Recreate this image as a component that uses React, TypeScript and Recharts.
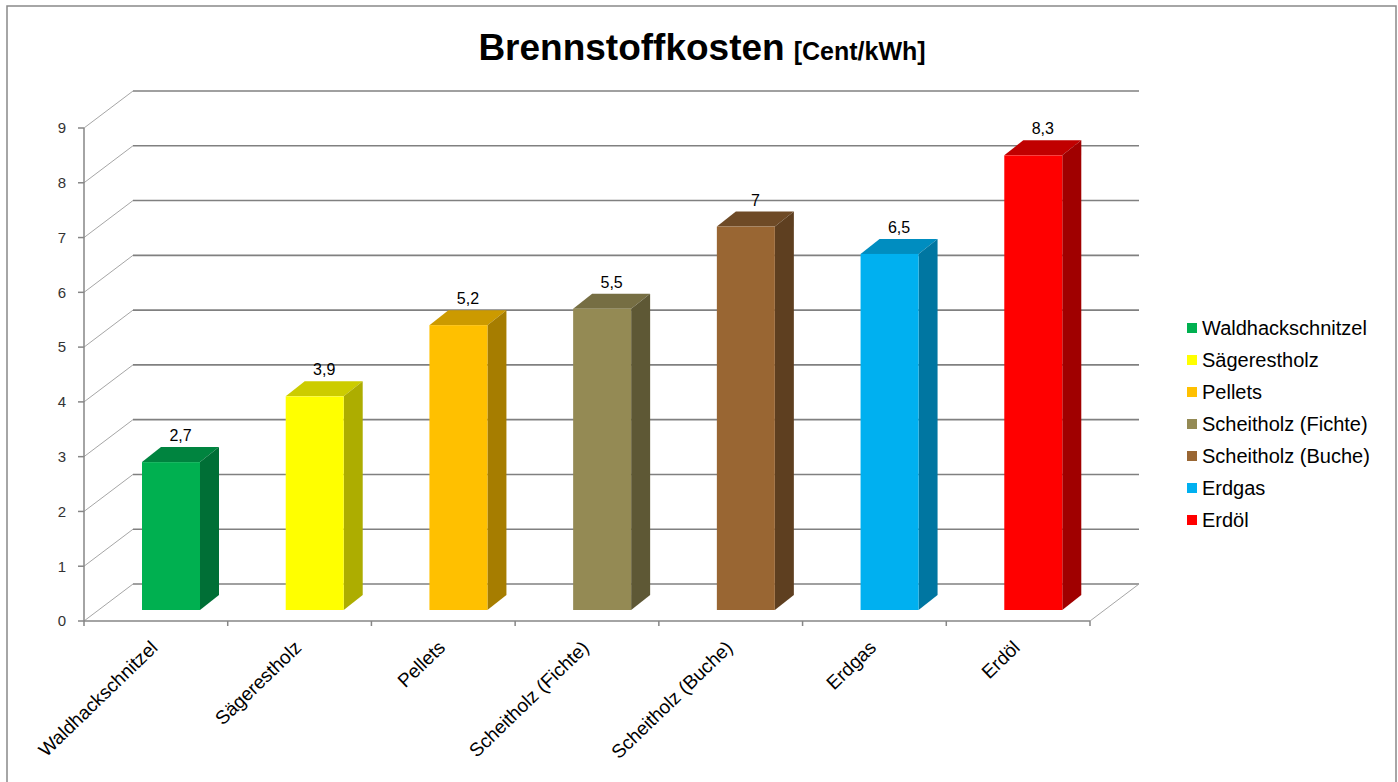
import React from 'react';
import { BarChart, Bar, XAxis, YAxis, CartesianGrid, Legend, LabelList } from 'recharts';

const CATEGORIES = [
  'Waldhackschnitzel',
  'Sägerestholz',
  'Pellets',
  'Scheitholz (Fichte)',
  'Scheitholz (Buche)',
  'Erdgas',
  'Erdöl',
];
const COSTS = [2.7, 3.9, 5.2, 5.5, 7, 6.5, 8.3];
const Y_TICKS = [0, 1, 2, 3, 4, 5, 6, 7, 8, 9];

// front / top / side shades per bar
const FRONT = ['#00B050', '#FFFF00', '#FFC000', '#948A54', '#996633', '#00B0F0', '#FF0000'];
const TOP = ['#00843F', '#CCCC00', '#CC9A00', '#766E43', '#6E4A26', '#008DC0', '#C00000'];
const SIDE = ['#006F36', '#ADAD00', '#A67D00', '#5E5835', '#5E3F20', '#0076A1', '#A00000'];

const FONT = "'Liberation Sans', Arial, sans-serif";
const W = 1398;
const H = 782;
const LEGEND_W = 200;
// the vertical legend takes its width off the right side of the plot
const MARGIN = { top: 128, right: 308 - LEGEND_W, left: 24, bottom: 21 };
const Y_AXIS_W = 60;
const X_AXIS_H = 140;
const PLOT_W = W - MARGIN.left - Y_AXIS_W - MARGIN.right - LEGEND_W;
const HALF_BAND = PLOT_W / CATEGORIES.length / 2;

// back wall offset and bar depth
const WALL_DX = 49;
const WALL_DY = 37;
const BAR_DX = 19;
const BAR_DY = 15;
const BAR_SHIFT_X = 15;
const BAR_SHIFT_Y = -11;

const data = CATEGORIES.map((name, i) => ({ name, value: COSTS[i] }));

function colorIndex(props: any) {
  if (typeof props.index === 'number') return props.index;
  return Math.max(0, CATEGORIES.indexOf(props.payload?.name));
}

function Bar3D(props: any) {
  const { x, y, width, height } = props;
  const i = colorIndex(props);
  const fx = x + BAR_SHIFT_X;
  const fy = y + BAR_SHIFT_Y;
  return (
    <g>
      <polygon
        points={`${fx},${fy} ${fx + BAR_DX},${fy - BAR_DY} ${fx + width + BAR_DX},${fy - BAR_DY} ${fx + width},${fy}`}
        fill={TOP[i]}
      />
      <polygon
        points={`${fx + width},${fy} ${fx + width + BAR_DX},${fy - BAR_DY} ${fx + width + BAR_DX},${fy + height - BAR_DY} ${fx + width},${fy + height}`}
        fill={SIDE[i]}
      />
      <rect x={fx} y={fy} width={width} height={height} fill={FRONT[i]} />
    </g>
  );
}

function ValueLabel(props: any) {
  const { x, y, width, value } = props;
  const cx = x + BAR_SHIFT_X + width / 2 + BAR_DX / 2;
  const ty = y + BAR_SHIFT_Y - BAR_DY - 6;
  return (
    <text x={cx} y={ty} textAnchor="middle" fontSize={16} fontFamily={FONT} fill="#000">
      {String(value).replace('.', ',')}
    </text>
  );
}

function BackGridLine(p: any) {
  const { x1, y1, x2 } = p;
  return (
    <g key={p.key}>
      <line x1={x1} y1={y1} x2={x1 + WALL_DX} y2={y1 - WALL_DY} stroke="#a6a6a6" strokeWidth={1} />
      <line x1={x1 + WALL_DX} y1={y1 - WALL_DY} x2={x2 + WALL_DX} y2={y1 - WALL_DY} stroke="#808080" strokeWidth={1.6} />
    </g>
  );
}

function CategoryTick(props: any) {
  const { x, y, payload, index } = props;
  const last = index === CATEGORIES.length - 1;
  const lx = x + 3;
  const ly = y + 28;
  return (
    <g>
      <line x1={x - HALF_BAND} y1={y} x2={x - HALF_BAND} y2={y + 5} stroke="#868686" strokeWidth={1.5} />
      {last && (
        <g>
          <line x1={x + HALF_BAND} y1={y} x2={x + HALF_BAND} y2={y + 5} stroke="#868686" strokeWidth={1.5} />
          <line x1={x + HALF_BAND} y1={y} x2={x + HALF_BAND + WALL_DX} y2={y - WALL_DY} stroke="#a6a6a6" strokeWidth={1} />
        </g>
      )}
      <text
        x={lx}
        y={ly}
        transform={`rotate(-44, ${lx}, ${ly})`}
        textAnchor="end"
        fontSize={19}
        fontFamily={FONT}
        fill="#000"
      >
        {payload.value}
      </text>
    </g>
  );
}

function LegendBox() {
  return (
    <div style={{ fontFamily: FONT, fontSize: 20, color: '#000' }}>
      {CATEGORIES.map((name, i) => (
        <div key={name} style={{ display: 'flex', alignItems: 'center', height: 32 }}>
          <span style={{ width: 10, height: 10, background: FRONT[i], marginRight: 5, display: 'inline-block' }} />
          <span>{name}</span>
        </div>
      ))}
    </div>
  );
}

export default function App() {
  return (
    <div style={{ position: 'absolute', left: 0, top: 0, width: W, height: H, overflow: 'hidden', background: '#fff' }}>
      <svg width={W} height={H} style={{ position: 'absolute', left: 0, top: 0 }}>
        <rect x={7} y={6} width={1389} height={800} fill="none" stroke="#898989" strokeWidth={1.5} />
        <text x={702} y={60} textAnchor="middle" fontFamily={FONT} fontWeight="bold" fill="#000">
          <tspan fontSize={37}>Brennstoffkosten</tspan>
          <tspan fontSize={25} dx={9}>[Cent/kWh]</tspan>
        </text>
      </svg>
      <div style={{ position: 'absolute', left: 0, top: 0 }}>
        <BarChart width={W} height={H} data={data} margin={MARGIN}>
          <CartesianGrid vertical={false} horizontal={BackGridLine} />
          <XAxis
            dataKey="name"
            interval={0}
            height={X_AXIS_H}
            tickSize={0}
            tickMargin={0}
            tickLine={false}
            axisLine={{ stroke: '#868686', strokeWidth: 1.5 }}
            tick={(p: any) => <CategoryTick {...p} />}
          />
          <YAxis
            domain={[0, 9]}
            ticks={Y_TICKS}
            interval={0}
            width={Y_AXIS_W}
            axisLine={{ stroke: '#868686', strokeWidth: 1.5 }}
            tickLine={{ stroke: '#868686', strokeWidth: 1.5 }}
            tickSize={6}
            tickMargin={12}
            tick={{ fontSize: 15, fill: '#333', fontFamily: FONT }}
          />
          <Legend
            layout="vertical"
            verticalAlign="top"
            align="right"
            width={LEGEND_W}
            wrapperStyle={{ left: 1187, top: 312, width: LEGEND_W }}
            content={LegendBox}
          />
          <Bar dataKey="value" barSize={58} isAnimationActive={false} shape={Bar3D}>
            <LabelList dataKey="value" content={ValueLabel} />
          </Bar>
        </BarChart>
      </div>
    </div>
  );
}
